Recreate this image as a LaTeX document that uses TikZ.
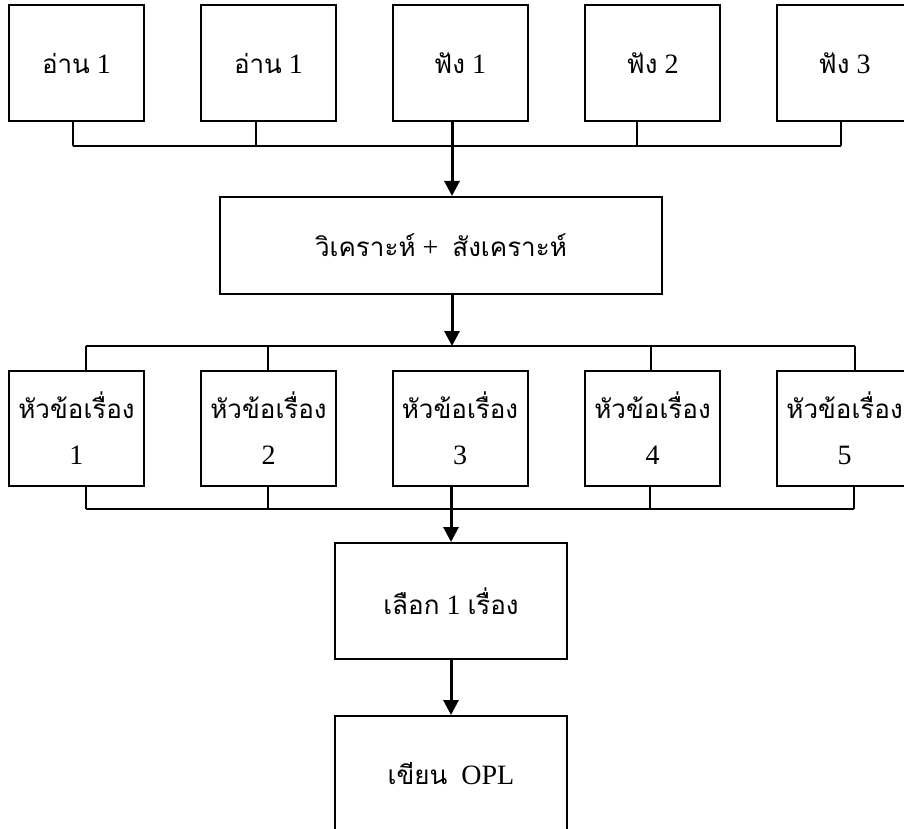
\documentclass[tikz,border=0pt]{standalone}
\usepackage{fontspec}
\setmainfont{Liberation Serif}
\newfontfamily\thaifont[Script=Thai]{Loma}
\usetikzlibrary{arrows.meta,positioning}

\newcommand{\thx}[1]{{\thaifont\fontsize{26}{34}\selectfont #1}}

\begin{document}
\begin{tikzpicture}[x=1pt,y=-1pt,>={Triangle[length=15pt,width=15pt]},
	box/.style={draw,line width=2pt,minimum width=135pt,minimum height=116pt,inner sep=0pt,align=center,font=\fontsize{28}{34}\selectfont},
	wide/.style={box,minimum width=232pt},
	link/.style={line width=2pt},
	flow/.style={->,line width=3pt}]
\useasboundingbox (0,0) rectangle (904,829);
\clip (0,0) rectangle (904,829);

% sources
\node[box]		(r1)	at (76.5,63)	{\thx{อ่าน} 1};
\node[box]		(r2)	at (268.5,63)	{\thx{อ่าน} 1};
\node[box]		(r3)	at (460,63)	{\thx{ฟัง} 1};
\node[box]		(r4)	at (652.5,63)	{\thx{ฟัง} 2};
\node[box]		(r5)	at (844.5,63)	{\thx{ฟัง} 3};

\node[box,minimum width=442pt,minimum height=97pt]	(an)	at (441,245.5)	{\thx{วิเคราะห์} + \ \thx{สังเคราะห์}};

% topics
\node[box,minimum height=115pt]	(h1)	at (76.5,428.5)	{\thx{หัวข้อเรื่อง}\\[12pt]1};
\node[box,minimum height=115pt]	(h2)	at (268.5,428.5)	{\thx{หัวข้อเรื่อง}\\[12pt]2};
\node[box,minimum height=115pt]	(h3)	at (460,428.5)	{\thx{หัวข้อเรื่อง}\\[12pt]3};
\node[box,minimum height=115pt]	(h4)	at (652.5,428.5)	{\thx{หัวข้อเรื่อง}\\[12pt]4};
\node[box,minimum height=115pt]	(h5)	at (844.5,428.5)	{\thx{หัวข้อเรื่อง}\\[12pt]5};

\node[wide]		(pick)	at (451,601)	{\thx{เลือก} 1 \thx{เรื่อง}};
\node[wide]		(opl)	at (451,774)	{\thx{เขียน} \ OPL};

% bus lines
\coordinate (d1) at (73,146);	\coordinate (d2) at (256,146);	\coordinate (d3) at (452,146);
\coordinate (d4) at (637,146);	\coordinate (d5) at (841,146);
\coordinate (e1) at (86,346);	\coordinate (e2) at (268,346);	\coordinate (e3) at (452,346);
\coordinate (e4) at (651,346);	\coordinate (e5) at (855,346);
\coordinate (f1) at (86,509);	\coordinate (f2) at (268,509);	\coordinate (f3) at (451,509);
\coordinate (f4) at (650,509);	\coordinate (f5) at (854,509);

\draw[link] (d1) -- (d5);
\foreach \i in {1,2,4,5}
	\draw[link] (d\i) -- (d\i |- r\i.south);
\draw[flow] (r3.south -| d3) -- (d3 |- an.north);

\draw[flow] (an.south -| e3) -- (e3);
\draw[link] (e1) -- (e5);
\foreach \i in {1,2,4,5}
	\draw[link] (e\i) -- (e\i |- h\i.north);

\draw[link] (f1) -- (f5);
\foreach \i in {1,2,4,5}
	\draw[link] (f\i) -- (f\i |- h\i.south);
\draw[flow] (h3.south -| f3) -- (f3 |- pick.north);
\draw[flow] (pick) -- (opl);
\end{tikzpicture}
\end{document}
